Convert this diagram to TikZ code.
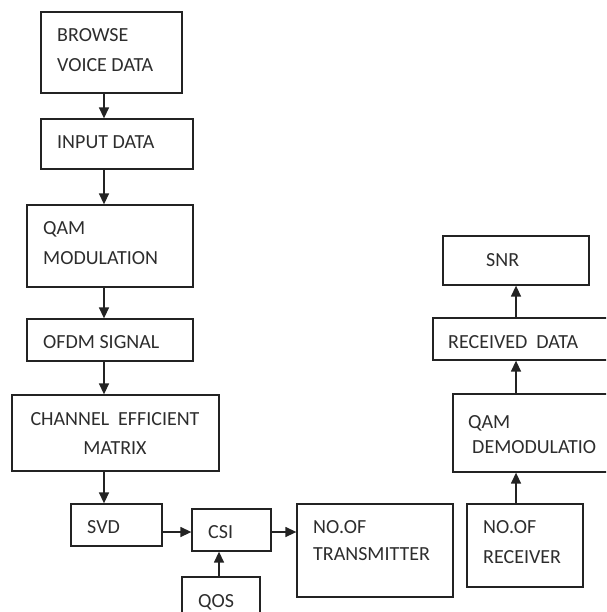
\documentclass[tikz,border=0pt]{standalone}
\usepackage{fontspec}
\setmainfont{Carlito}
\usetikzlibrary{arrows.meta}
\definecolor{ink}{RGB}{35,35,35}
\definecolor{txt}{RGB}{45,45,45}
\begin{document}
\begin{tikzpicture}[x=1pt,y=-1pt,
  box/.style={draw=ink, line width=1.3pt, rectangle, inner sep=0pt},
  lbl/.style={anchor=base west, inner sep=0pt, text=txt, font=\fontsize{20}{24}\selectfont},
  clbl/.style={anchor=base, inner sep=0pt, text=txt, font=\fontsize{20}{24}\selectfont},
  arr/.style={draw=ink, line width=1.4pt, -{Triangle[length=11pt,width=10pt]}}]
\useasboundingbox (0,0) rectangle (606,612);
\clip (0,0) rectangle (606,612);
% boxes
\node[box, minimum width=141pt, minimum height=81pt] (b1) at (111.5,52.5) {};
\node[box, minimum width=152pt, minimum height=50pt] (b2) at (117,144) {};
\node[box, minimum width=166pt, minimum height=82pt] (b3) at (110,246) {};
\node[box, minimum width=166pt, minimum height=42pt] (b4) at (110,340) {};
\node[box, minimum width=207pt, minimum height=76pt] (b5) at (115.5,433) {};
\node[box, minimum width=91pt, minimum height=42pt] (b6) at (116.5,525) {};
\node[box, minimum width=79pt, minimum height=42pt] (b7) at (231.5,530) {};
\node[box, minimum width=78pt, minimum height=63pt] (b8) at (221,608.5) {};
\node[box, minimum width=156pt, minimum height=93pt] (b9) at (375,550.5) {};
\node[box, minimum width=116pt, minimum height=83pt] (b10) at (525,545.5) {};
\node[box, minimum width=187pt, minimum height=78pt] (b11) at (546.5,433) {};
\node[box, minimum width=207pt, minimum height=42pt] (b12) at (536.5,339) {};
\node[box, minimum width=146pt, minimum height=49pt] (b13) at (516,260.5) {};
% texts
\node[lbl] (t1a) at (57,42) {BROWSE};
\node[lbl] (t1b) at (57,72) {VOICE DATA};
\node[lbl] (t2) at (57,149) {INPUT DATA};
\node[lbl] (t3a) at (43,234) {QAM};
\node[lbl] (t3b) at (43,264) {MODULATION};
\node[lbl] (t4) at (43,348) {OFDM SIGNAL};
\node[clbl] (t5a) at (115,425) {CHANNEL\hspace{9pt}EFFICIENT};
\node[clbl] (t5b) at (115,454) {MATRIX};
\node[lbl] (t6) at (87,533) {SVD};
\node[lbl] (t7) at (208,538) {CSI};
\node[lbl] (t8) at (198,607) {QOS};
\node[lbl] (t9a) at (313,533) {NO.OF};
\node[lbl] (t9b) at (313,560) {TRANSMITTER};
\node[lbl] (t10a) at (483,533) {NO.OF};
\node[lbl] (t10b) at (483,563) {RECEIVER};
\node[lbl] (t11a) at (468,428) {QAM};
\node[lbl] (t11b) at (472,453) {DEMODULATIO};
\node[lbl] (t12) at (448,348) {RECEIVED\hspace{9pt}DATA};
\node[lbl] (t13) at (486,266) {SNR};
% connector guides
\coordinate (lx) at (104,0);
\coordinate (hy) at (0,532);
\coordinate (qx) at (219,0);
\coordinate (rx) at (516,0);
% connectors
\draw[arr] (b1.south -| lx) -- (b2.north -| lx);
\draw[arr] (b2.south -| lx) -- (b3.north -| lx);
\draw[arr] (b3.south -| lx) -- (b4.north -| lx);
\draw[arr] (b4.south -| lx) -- (b5.north -| lx);
\draw[arr] (b5.south -| lx) -- (b6.north -| lx);
\draw[arr] (b6.east |- hy) -- (b7.west |- hy);
\draw[arr] (b7.east |- hy) -- (b9.west |- hy);
\draw[arr] (b8.north -| qx) -- (b7.south -| qx);
\draw[arr] (b10.north -| rx) -- (b11.south -| rx);
\draw[arr] (b11.north -| rx) -- (b12.south -| rx);
\draw[arr] (b12.north -| rx) -- (b13.south -| rx);
\end{tikzpicture}
\end{document}
